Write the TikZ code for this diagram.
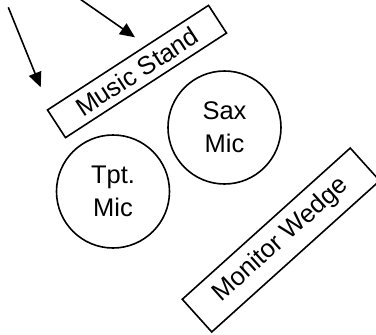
\documentclass[tikz,border=0pt]{standalone}
\usepackage{fontspec}
\setmainfont{Liberation Sans}
\usetikzlibrary{arrows.meta}
\begin{document}
\begin{tikzpicture}[x=1pt,y=-1pt,line width=1.6pt,
  mic/.style={draw, circle, minimum size=113pt, inner sep=0pt, align=center},
  prop/.style={draw, rectangle, inner sep=0pt},
  every node/.style={font=\fontsize{25.5}{33}\selectfont}]
\useasboundingbox (0,0) rectangle (376,335);
\clip (0,0) rectangle (376,335);
\node[prop, minimum width=192pt, minimum height=33pt, rotate=33] (stand) at (137,71.5) {Music Stand};
\node[mic] (sax) at (224.5,127.5) {Sax\\Mic};
\node[mic] (tpt) at (113,191.5) {Tpt.\\Mic};
\node[prop, minimum width=226pt, minimum height=44pt, rotate=42] (wedge) at (281,240) {Monitor Wedge};
\coordinate (a0) at (8.3,7.3);
\coordinate (a1) at (40.7,87.3);
\coordinate (b0) at (80,-1);
\coordinate (b1) at (135,37.3);
\draw[-{Triangle[length=15pt,width=13pt]}] (a0)--(a1);
\draw[-{Triangle[length=15pt,width=13pt]}] (b0)--(b1);
\end{tikzpicture}
\end{document}
